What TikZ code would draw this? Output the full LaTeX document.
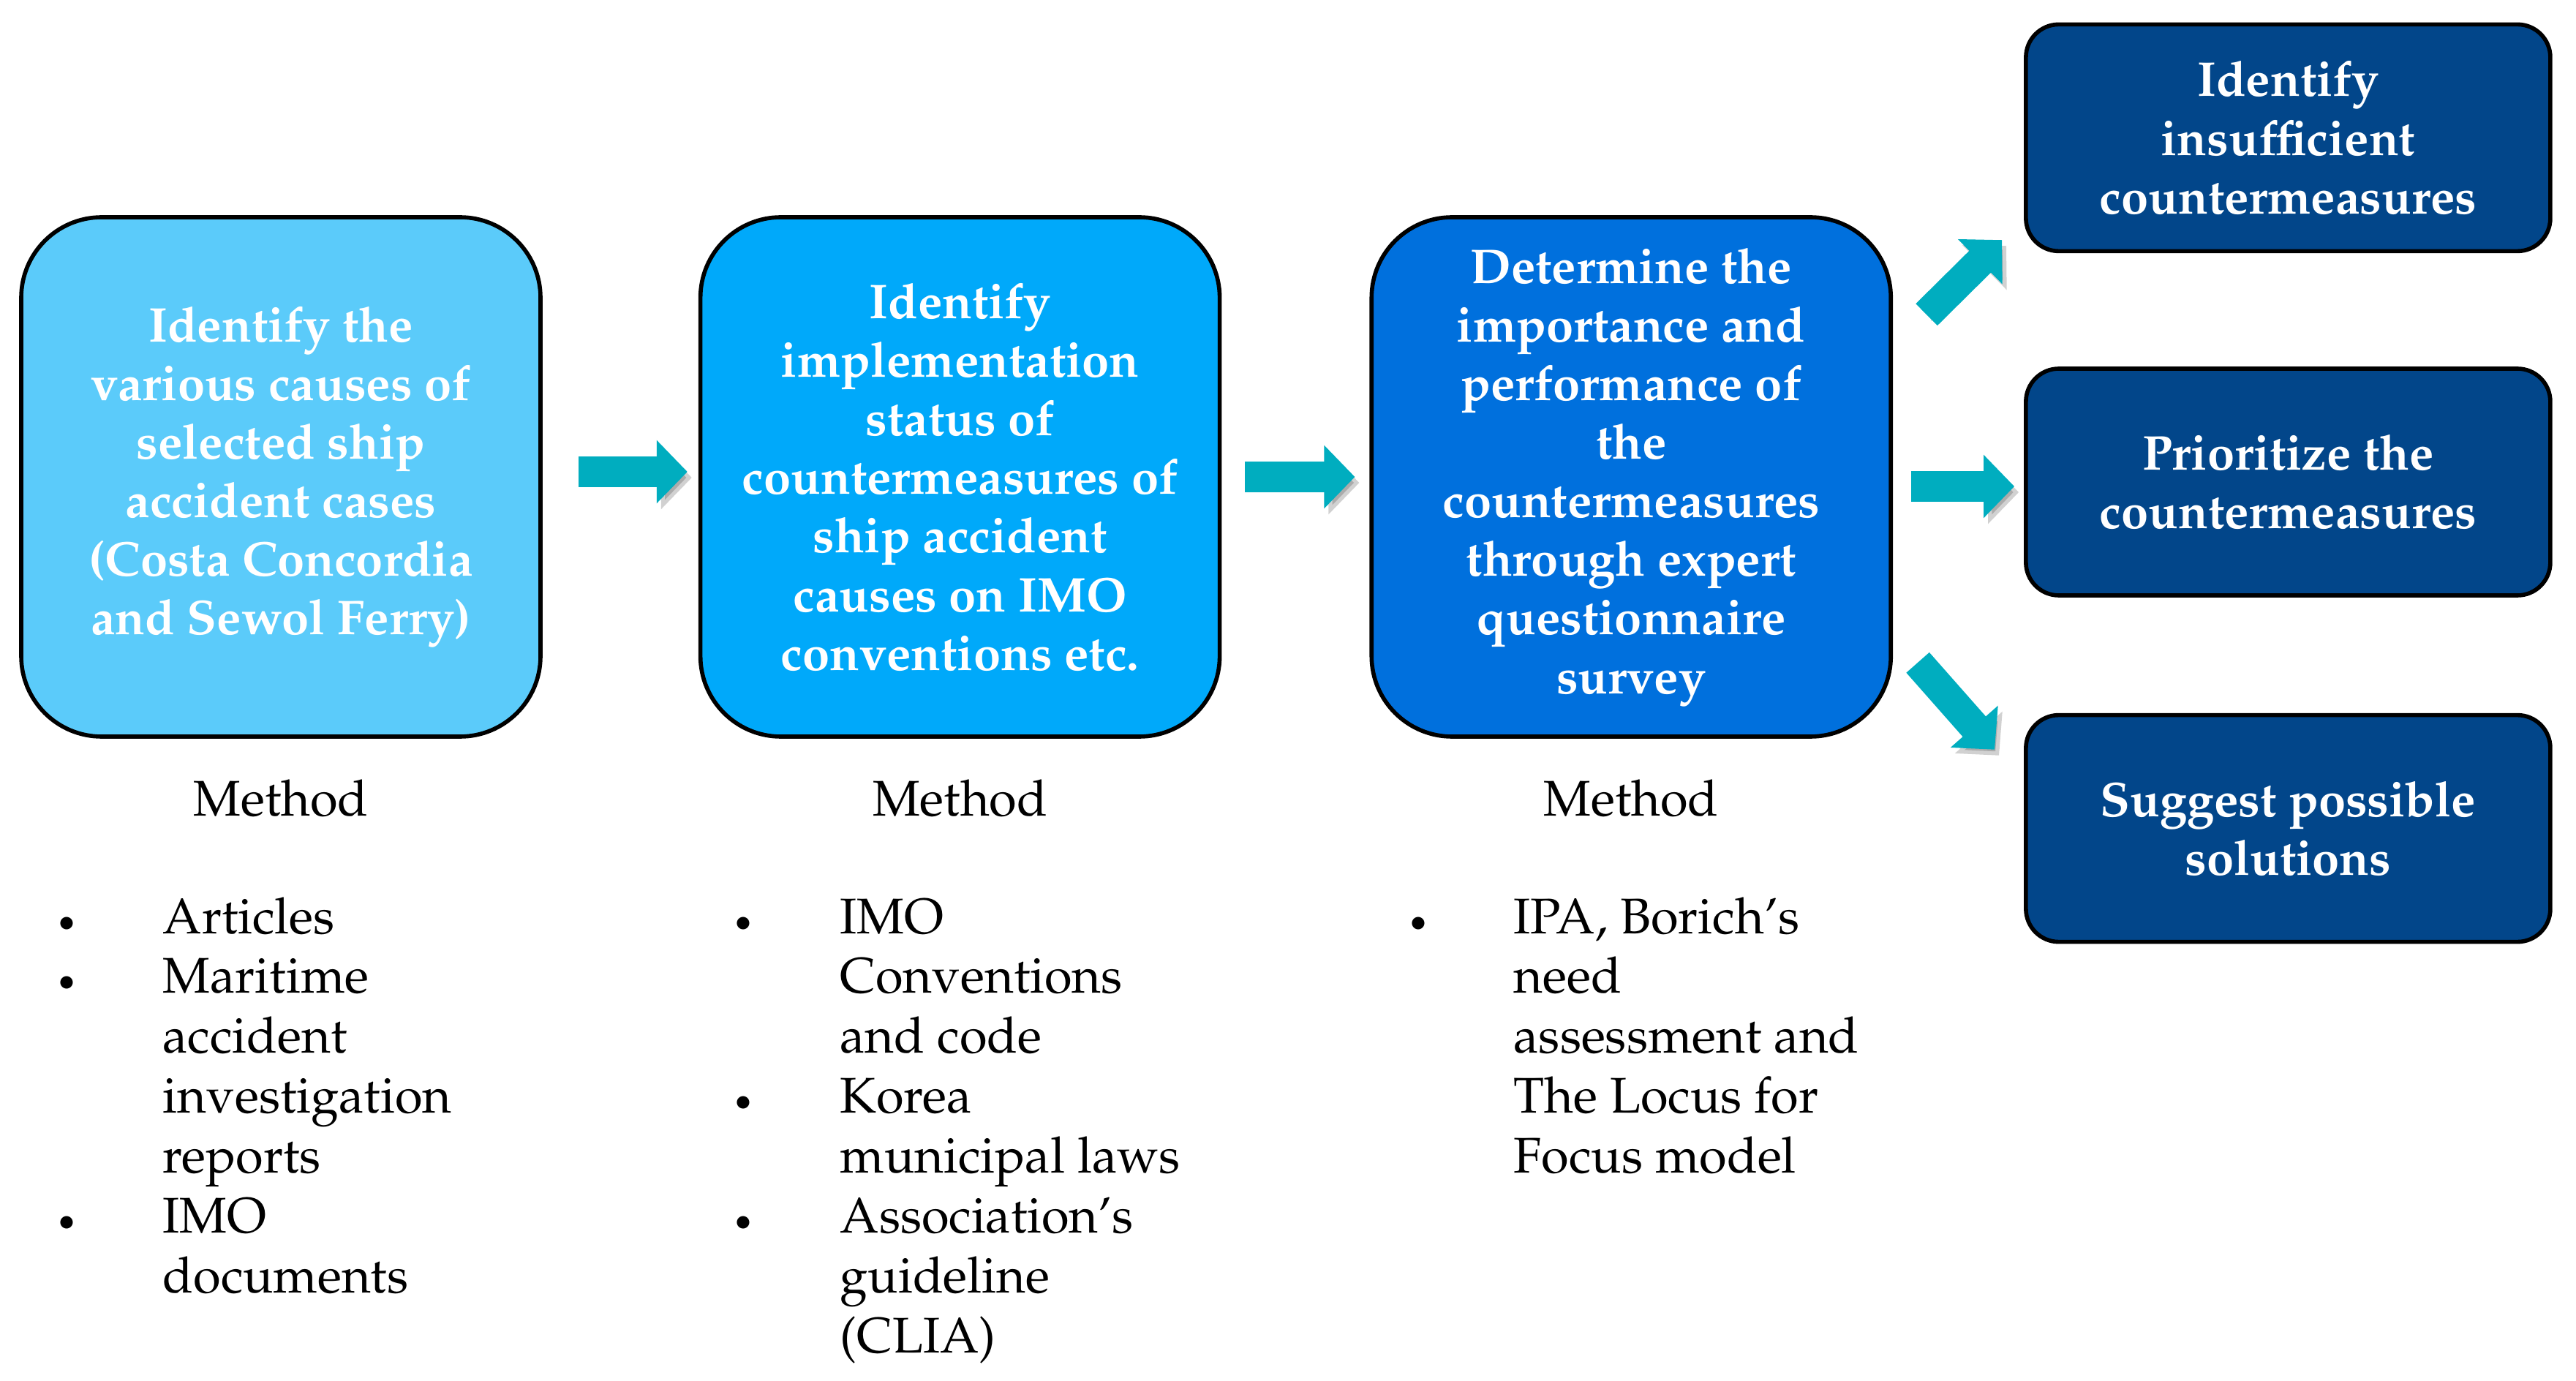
\documentclass[tikz,border=0pt]{standalone}
\usepackage[T1]{fontenc}
\usepackage{mathpazo}
\usepackage{tikz}
\usetikzlibrary{arrows.meta, positioning, calc}
\definecolor{stepone}{HTML}{5BCBFA}
\definecolor{steptwo}{HTML}{00A9FA}
\definecolor{stepthree}{HTML}{0070DD}
\definecolor{outnavy}{HTML}{02468A}
\definecolor{arrowteal}{HTML}{00ADBF}
\newcommand{\dotmark}{\hspace*{-0.08cm}\raisebox{0.03cm}{\fontsize{12}{12}\selectfont$\bullet$}}

\begin{document}
\begin{tikzpicture}[
    node distance=2.13cm,
    bigbox/.style={draw, line width=1.6pt, rounded corners=1.1cm, minimum width=7.1cm, minimum height=7.1cm,
        align=center, text=white, font=\bfseries\fontsize{19}{22.8}\selectfont, inner sep=0pt},
    outbox/.style={draw, line width=1.6pt, rounded corners=0.45cm, minimum width=7.17cm, minimum height=3.1cm,
        align=center, text=white, fill=outnavy, font=\bfseries\fontsize{19}{22.8}\selectfont, inner sep=0pt},
    methodlbl/.style={font=\fontsize{19.5}{23.3}\selectfont, inner sep=0pt},
    itemlist/.style={anchor=north west, inner sep=0pt, align=left, font=\fontsize{19.5}{23.3}\selectfont},
    flow/.style={line width=0.42cm, draw=arrowteal, -{Triangle[length=0.42cm, width=0.84cm]},
        preaction={draw=black, opacity=0.18, transform canvas={xshift=0.06cm, yshift=-0.08cm}}}
]
    \useasboundingbox (0,0) rectangle (35.22,18.87);

    \node[bigbox, fill=stepone] (cause) at (3.84,12.35) {Identify the\\various causes of\\selected ship\\accident cases\\(Costa Concordia\\and Sewol Ferry)};
    \node[bigbox, fill=steptwo, right=of cause] (status) {Identify\\implementation\\status of\\countermeasures of\\ship accident\\causes on IMO\\conventions etc.};
    \node[bigbox, fill=stepthree, right=2.02cm of status] (survey) {Determine the\\importance and\\performance of\\the\\countermeasures\\through expert\\questionnaire\\survey};

    \node[outbox, right=1.79cm of survey, yshift=-0.07cm] (prior) {Prioritize the\\countermeasures};
    \node[outbox, above=1.55cm of prior] (insuf) {Identify\\insufficient\\countermeasures};
    \node[outbox, below=1.58cm of prior] (suggest) {Suggest possible\\solutions};

    \draw[flow] ([xshift=0.49cm, yshift=0.07cm]cause.east) -- ([xshift=-0.15cm, yshift=0.07cm]status.west);
    \draw[flow] ([xshift=0.32cm]status.east) -- ([xshift=-0.2cm]survey.west);
    \draw[flow] ([xshift=0.25cm, yshift=-0.13cm]survey.east) -- ([xshift=-0.13cm, yshift=-0.06cm]prior.west);
    \draw[flow] ($(survey.north east)+(0.46,-1.36)$) -- ($(insuf.south west)+(-0.3,0.18)$);
    \draw[flow] ($(survey.south east)+(0.34,1.04)$) -- ($(suggest.north west)+(-0.4,-0.5)$);

    \node[methodlbl, below=0.55cm of cause] (meth1) {Method};
    \node[methodlbl, below=0.55cm of status] (meth2) {Method};
    \node[methodlbl, below=0.55cm of survey] (meth3) {Method};

    \node[itemlist] (list1) at (0.87,6.69) {\begin{tabular}{@{}p{1.35cm}@{}l@{}}
        \dotmark & Articles\\
        \dotmark & Maritime\\
         & accident\\
         & investigation\\
         & reports\\
        \dotmark & IMO\\
         & documents
    \end{tabular}};
    \node[itemlist] (list2) at (10.12,6.69) {\begin{tabular}{@{}p{1.36cm}@{}l@{}}
        \dotmark & IMO\\
         & Conventions\\
         & and code\\
        \dotmark & Korea\\
         & municipal laws\\
        \dotmark & Association's\\
         & guideline\\
         & (CLIA)
    \end{tabular}};
    \node[itemlist] (list3) at (19.35,6.69) {\begin{tabular}{@{}p{1.34cm}@{}l@{}}
        \dotmark & IPA, Borich's\\
         & need\\
         & assessment and\\
         & The Locus for\\
         & Focus model
    \end{tabular}};
\end{tikzpicture}
\end{document}
